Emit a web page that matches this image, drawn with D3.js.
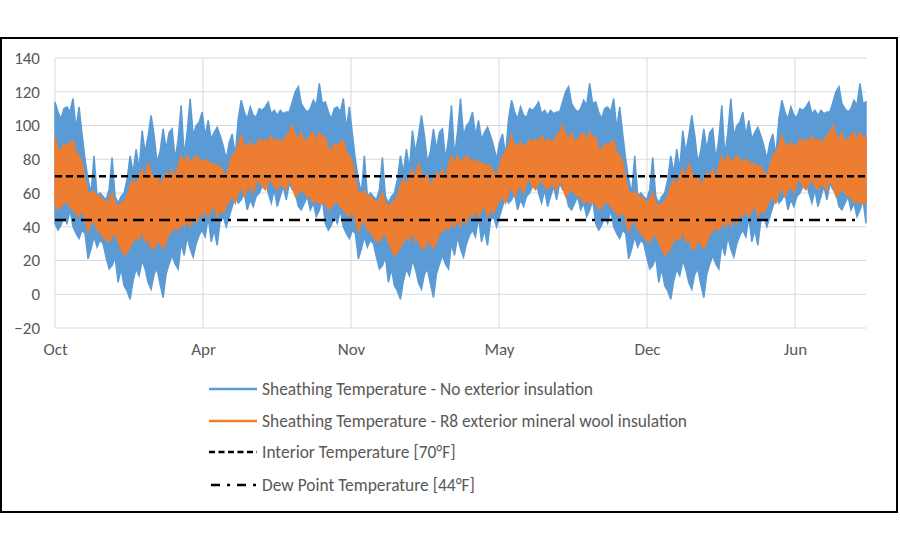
<!DOCTYPE html>
<html><head><meta charset="utf-8">
<script src="https://cdn.jsdelivr.net/npm/d3@7"></script>
<style>
body{margin:0;background:#fff;}
text{font-family:Carlito, Calibri, Lato, "Open Sans", sans-serif;}
</style></head>
<body><svg id="chart" width="900" height="550"></svg>
<script>
// ---- data (one-year profile, Oct -> Oct, ~4 day steps; the reference repeats it for 3 years)
const xTickLabels = ["Oct","Apr","Nov","May","Dec","Jun"];
const xTickDays = [0,200,400,600,800,1000];
const totalDays = 1096;
const yTicks = [-20,0,20,40,60,80,100,120,140];

const noInsHigh = [114,108,104,110,111,108,116,98,111,95,80,68,60,82,58,60,58,56,62,81,58,54,58,60,68,82,72,86,74,97,84,94,106,94,78,85,98,86,96,98,80,92,112,82,96,116,94,100,102,108,94,103,92,96,99,94,88,80,90,95,82,104,115,108,104,111,106,105,110,109,111,114,107,109,106,109,107,108,108,114,120,123,113,110,108,110,115,112,125,113];
const noInsLow = [42,38,41,46,42,50,40,36,33,38,36,21,27,34,28,32,30,22,15,17,22,7,15,5,2,-3,8,15,11,20,15,7,3,12,15,6,-2,12,18,23,18,15,30,23,34,27,22,30,35,38,34,46,31,38,29,44,46,40,46,52,58,54,56,60,50,56,52,58,60,64,68,60,54,62,52,58,64,56,66,62,60,52,50,54,58,50,54,46,50,56];
const r8High = [93,86,85,89,88,90,91,84,82,78,68,60,60,61,58,58,56,54,56,60,54,52,54,55,58,64,68,64,70,74,68,78,72,68,70,64,68,72,70,74,68,76,82,78,82,78,80,82,80,78,80,78,78,77,76,76,72,70,76,82,84,88,94,88,88,90,88,88,92,90,92,90,94,90,92,90,91,94,96,100,94,92,96,90,92,94,96,90,96,93];
const r8Low = [54,50,52,54,55,52,50,48,46,50,44,37,42,44,38,37,34,32,31,34,36,31,27,23,25,28,31,34,32,38,31,33,27,27,32,30,27,31,36,37,40,38,42,40,44,40,46,42,48,46,50,46,50,52,46,50,48,52,56,58,54,60,64,58,62,64,60,66,68,64,62,66,68,64,62,66,64,62,68,64,58,60,62,60,58,58,54,56,54,54];
const interiorTemp = 70;
const dewPointTemp = 44;
const legendLabels = [
  "Sheathing Temperature - No exterior insulation",
  "Sheathing Temperature - R8 exterior mineral wool insulation",
  "Interior Temperature [70\u00B0F]",
  "Dew Point Temperature [44\u00B0F]"
];
const colors = ["#5B9BD5","#ED7D31","#000000","#000000"];

// three identical years as in the reference, closed at the last boundary
function threeYears(a){ return a.concat(a, a, [a[0]]); }
const blueHi = threeYears(noInsHigh), blueLo = threeYears(noInsLow);
const orHi = threeYears(r8High), orLo = threeYears(r8Low);
const nSteps = blueHi.length - 1;

const svg = d3.select("#chart");
const L = 55, R = 866, T = 58, B = 328;
const x = d3.scaleLinear().domain([0,totalDays]).range([L,R]);
const y = d3.scaleLinear().domain([-20,140]).range([B,T]);
const dayOf = i => i * totalDays / nSteps;

// outer frame
svg.append("rect").attr("x",1).attr("y",38).attr("width",896).attr("height",474)
  .attr("fill","#fff").attr("stroke","#000").attr("stroke-width",2);

// gridlines
svg.append("g").selectAll("line").data(yTicks).join("line")
  .attr("x1",L).attr("x2",R).attr("y1",d=>y(d)).attr("y2",d=>y(d))
  .attr("stroke","#d9d9d9").attr("stroke-width",1);
svg.append("g").selectAll("line").data(xTickDays).join("line")
  .attr("x1",d=>x(d)).attr("x2",d=>x(d)).attr("y1",T).attr("y2",B)
  .attr("stroke","#d9d9d9").attr("stroke-width",1);

// series bands
function band(hi, lo, color){
  const area = d3.area().x((d,i)=>x(dayOf(i))).y0((d,i)=>y(lo[i])).y1(d=>y(d));
  svg.append("path").datum(hi).attr("d",area)
    .attr("fill",color).attr("stroke",color).attr("stroke-width",1.5).attr("stroke-linejoin","miter");
}
band(blueHi, blueLo, colors[0]);
band(orHi, orLo, colors[1]);

// reference lines
svg.append("line").attr("x1",x(0)).attr("x2",x(totalDays)).attr("y1",y(interiorTemp)).attr("y2",y(interiorTemp))
  .attr("stroke","#000").attr("stroke-width",2.5).attr("stroke-dasharray","7,4");
svg.append("line").attr("x1",x(0)).attr("x2",x(totalDays)-9).attr("y1",y(dewPointTemp)).attr("y2",y(dewPointTemp))
  .attr("stroke","#000").attr("stroke-width",2.5).attr("stroke-dasharray","11,6,3,6");

// axes
const yAxis = d3.axisLeft(y).tickValues(yTicks).tickSize(0).tickPadding(15);
const gy = svg.append("g").attr("transform",`translate(${L},0)`).call(yAxis);
gy.select(".domain").remove();
gy.selectAll("text").attr("fill","#595959").style("font-size","17px");

const xAxis = d3.axisBottom(x).tickValues(xTickDays).tickSize(0).tickPadding(15)
  .tickFormat((d,i)=>xTickLabels[i]);
const gx = svg.append("g").attr("transform",`translate(0,${B})`).call(xAxis);
gx.select(".domain").remove();
gx.selectAll("text").attr("fill","#595959").style("font-size","17px");

// legend
const ly = [389, 421, 452, 485];
const lg = svg.append("g");
legendLabels.forEach((lab,i)=>{
  const ln = lg.append("line").attr("x1",209).attr("x2",257).attr("y1",ly[i]).attr("y2",ly[i])
    .attr("stroke",colors[i]).attr("stroke-width",2.5);
  if(i===2) ln.attr("stroke-dasharray","6,3.5");
  if(i===3) ln.attr("x1",211).attr("stroke-dasharray","9,7,3,7");
  lg.append("text").attr("x",262).attr("y",ly[i]).attr("dy","0.35em")
    .attr("fill","#595959").style("font-size","17.4px").text(lab);
});
</script>
</body></html>
